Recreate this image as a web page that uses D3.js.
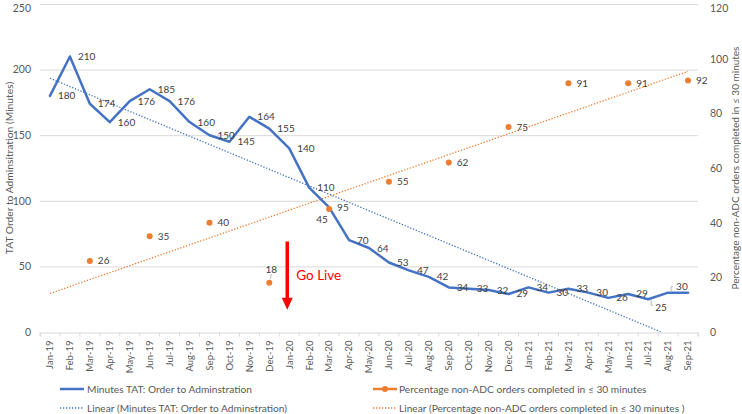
<!DOCTYPE html>
<html>
<head>
<meta charset="utf-8">
<script src="https://cdn.jsdelivr.net/npm/d3@7"></script>
<style>
  html, body { margin: 0; padding: 0; background: #ffffff; }
  svg { display: block; font-family: Lato, "Open Sans", sans-serif; }
</style>
</head>
<body>
<svg id="chart" width="742" height="414"></svg>
<script>
// ---------------- data ----------------
const months = ["Jan-19","Feb-19","Mar-19","Apr-19","May-19","Jun-19","Jul-19","Aug-19","Sep-19","Oct-19","Nov-19","Dec-19",
                "Jan-20","Feb-20","Mar-20","Apr-20","May-20","Jun-20","Jul-20","Aug-20","Sep-20","Oct-20","Nov-20","Dec-20",
                "Jan-21","Feb-21","Mar-21","Apr-21","May-21","Jun-21","Jul-21","Aug-21","Sep-21"];
const minutesTAT = [180,210,174,160,176,185,176,160,150,145,164,155,
                    140,110,95,70,64,53,47,42,34,33,32,29,
                    34,30,33,30,26,29,25,30,30];
const pctWithin30 = [null,null,26,null,null,35,null,null,40,null,null,18,
                     null,null,45,null,null,55,null,null,62,null,null,75,
                     null,null,91,null,null,91,null,null,92];
const leftTicks = [0,50,100,150,200,250];
const rightTicks = [0,20,40,60,80,100,120];
const seriesNames = ["Minutes TAT: Order to Adminstration",
                     "Percentage non-ADC orders completed in \u2264 30 minutes",
                     "Linear (Minutes TAT: Order to Adminstration)",
                     "Linear (Percentage non-ADC orders completed in \u2264 30 minutes )"];
const leftTitle = "TAT Order to Adminsitration (Minutes)";
const rightTitle = "Percentage non-ADC orders completed in \u2264 30 minutes";
const goLive = { month: "Jan-20", from: 69, to: 17, text: "Go Live", textAt: 43 };

// ---------------- layout / styles ----------------
const BLUE = "#4472C4", ORANGE = "#ED7D31", GRID = "#d9d9d9", TXT = "#595959", LBL = "#404040";
const plot = { left: 40, right: 698, top: 4, bottom: 332 };

const svg = d3.select("#chart");
const x = d3.scaleBand().domain(months).range([plot.left, plot.right]).padding(0);
const cx = m => x(m) + x.bandwidth() / 2;
const yL = d3.scaleLinear().domain([0, 250]).range([plot.bottom, plot.top]);
const yR = d3.scaleLinear().domain([0, 120]).range([plot.bottom, plot.top]);

// clip
svg.append("defs").append("clipPath").attr("id", "plotclip")
  .append("rect").attr("x", plot.left).attr("y", plot.top)
  .attr("width", plot.right - plot.left).attr("height", plot.bottom - plot.top);

// gridlines
svg.append("g").selectAll("line").data(leftTicks.filter(d => d > 0)).join("line")
  .attr("x1", plot.left).attr("x2", plot.right)
  .attr("y1", d => yL(d) + 0.5).attr("y2", d => yL(d) + 0.5)
  .attr("stroke", GRID).attr("stroke-width", 1);

// x axis
const xAxis = d3.axisBottom(x).tickSize(4).tickFormat(d => d);
const gx = svg.append("g").attr("transform", `translate(0,${plot.bottom + 0.5})`).call(xAxis);
gx.select(".domain").attr("stroke", GRID);
gx.selectAll(".tick line").remove();
gx.append("g").selectAll("line").data(d3.range(months.length + 1)).join("line")
  .attr("x1", i => plot.left + i * x.bandwidth()).attr("x2", i => plot.left + i * x.bandwidth())
  .attr("y1", 0).attr("y2", 4).attr("stroke", GRID);
gx.selectAll(".tick text")
  .attr("transform", "rotate(-90)")
  .attr("x", -8).attr("y", 0).attr("dy", "0.35em")
  .attr("text-anchor", "end")
  .attr("fill", TXT).attr("font-size", 9.5).attr("font-family", "Lato, sans-serif");

// left axis
const gl = svg.append("g").attr("transform", `translate(${plot.left},0)`)
  .call(d3.axisLeft(yL).tickValues(leftTicks).tickSize(0).tickPadding(9));
gl.select(".domain").remove();
gl.selectAll("text").attr("fill", TXT).attr("font-size", 10.5).attr("font-family", "Lato, sans-serif")
  .attr("dy", d => d === 250 ? "0.72em" : "0.32em");

// right axis
const gr = svg.append("g").attr("transform", `translate(${plot.right},0)`)
  .call(d3.axisRight(yR).tickValues(rightTicks).tickSize(0).tickPadding(12));
gr.select(".domain").remove();
gr.selectAll("text").attr("fill", TXT).attr("font-size", 10.5).attr("font-family", "Lato, sans-serif")
  .attr("dy", d => d === 120 ? "0.72em" : "0.32em");

// axis titles
const midY = (plot.top + plot.bottom) / 2;
svg.append("text").attr("transform", `translate(9,${midY}) rotate(-90)`)
  .attr("text-anchor", "middle").attr("dy", "0.35em")
  .attr("fill", TXT).attr("font-size", 10.3).text(leftTitle);
svg.append("text").attr("transform", `translate(735,${midY}) rotate(-90)`)
  .attr("text-anchor", "middle").attr("dy", "0.35em")
  .attr("fill", TXT).attr("font-size", 10).text(rightTitle);

// trendlines (least squares on category index)
function linreg(vals) {
  const pts = vals.map((v, i) => [i + 1, v]).filter(p => p[1] != null);
  const mx = d3.mean(pts, p => p[0]), my = d3.mean(pts, p => p[1]);
  const sxy = d3.sum(pts, p => (p[0] - mx) * (p[1] - my));
  const sxx = d3.sum(pts, p => (p[0] - mx) ** 2);
  const b = sxy / sxx, a = my - b * mx;
  return i => a + b * (i + 1);
}
const trendA = linreg(minutesTAT), trendB = linreg(pctWithin30);
const last = months.length - 1;
const gTrend = svg.append("g").attr("clip-path", "url(#plotclip)");
gTrend.append("line")
  .attr("x1", cx(months[0])).attr("y1", yL(trendA(0)))
  .attr("x2", cx(months[last])).attr("y2", yL(trendA(last)))
  .attr("stroke", BLUE).attr("stroke-width", 1.3).attr("stroke-dasharray", "1.3 1.7");
gTrend.append("line")
  .attr("x1", cx(months[0])).attr("y1", yR(trendB(0)))
  .attr("x2", cx(months[last])).attr("y2", yR(trendB(last)))
  .attr("stroke", ORANGE).attr("stroke-width", 1.3).attr("stroke-dasharray", "1.3 1.7");

// blue line
const line = d3.line().x((d, i) => cx(months[i])).y(d => yL(d));
svg.append("path").datum(minutesTAT).attr("d", line)
  .attr("fill", "none").attr("stroke", BLUE).attr("stroke-width", 2.5)
  .attr("stroke-linejoin", "round").attr("stroke-linecap", "round");

// orange markers
const pctPts = pctWithin30.map((v, i) => ({ m: months[i], v })).filter(d => d.v != null);
svg.append("g").selectAll("circle").data(pctPts).join("circle")
  .attr("cx", d => cx(d.m)).attr("cy", d => yR(d.v)).attr("r", 3).attr("fill", ORANGE);

// data labels
const blueNudge = {
  "Jul-21": { dx: 7, dy: 8, leader: [[3, 0], [3, 6], [5, 6]] },
  "Aug-21": { dx: 8, dy: -6, leader: [[3, 0], [3, -6], [5, -6]] },
  "Sep-21": { hide: true }
};
const orangeNudge = {
  "Mar-20": { dx: -7, dy: 10, anchor: "middle" },
  "Dec-19": { dx: 2, dy: -13, anchor: "middle", leader: [[1, -4], [2, -9]] }
};
function drawLabels(pts, yScale, nudges) {
  const g = svg.append("g");
  pts.forEach(d => {
    const n = nudges[d.m] || {};
    if (n.hide) return;
    const px = cx(d.m), py = yScale(d.v);
    if (n.leader) {
      g.append("path")
        .attr("d", d3.line()(n.leader.map(p => [px + p[0], py + p[1]])))
        .attr("fill", "none").attr("stroke", "#a6a6a6").attr("stroke-width", 0.8);
    }
    g.append("text")
      .attr("x", px + (n.dx != null ? n.dx : 8))
      .attr("y", py + (n.dy || 0))
      .attr("dy", "0.35em")
      .attr("text-anchor", n.anchor || "start")
      .attr("fill", LBL).attr("font-size", 10)
      .text(d.v);
  });
}
drawLabels(minutesTAT.map((v, i) => ({ m: months[i], v })), yL, blueNudge);
drawLabels(pctPts, yR, orangeNudge);

// Go Live annotation
const gx0 = cx(goLive.month) - 2;
const gGo = svg.append("g");
gGo.append("line").attr("x1", gx0).attr("x2", gx0)
  .attr("y1", yL(goLive.from)).attr("y2", yL(goLive.to) - 10)
  .attr("stroke", "#ff0000").attr("stroke-width", 3.5);
gGo.append("path")
  .attr("d", `M${gx0 - 5.5},${yL(goLive.to) - 12} L${gx0 + 5.5},${yL(goLive.to) - 12} L${gx0},${yL(goLive.to)} Z`)
  .attr("fill", "#ff0000");
gGo.append("text").attr("x", gx0 + 9).attr("y", yL(goLive.textAt)).attr("dy", "0.35em")
  .attr("fill", "#ff0000").attr("font-size", 13.5).text(goLive.text);

// legend
const leg = svg.append("g").attr("font-size", 10.2).attr("fill", TXT);
const rows = [389, 408];
const cols = [{ s: 60, e: 84, t: 87 }, { s: 373, e: 397, t: 399 }];
const legendItems = [
  { name: seriesNames[0], color: BLUE, dash: null, w: 2.5, marker: false, r: 0, c: 0 },
  { name: seriesNames[1], color: ORANGE, dash: null, w: 2.5, marker: true, r: 0, c: 1 },
  { name: seriesNames[2], color: BLUE, dash: "1.3 1.7", w: 1.3, marker: false, r: 1, c: 0 },
  { name: seriesNames[3], color: ORANGE, dash: "1.3 1.7", w: 1.3, marker: false, r: 1, c: 1 }
];
legendItems.forEach(it => {
  const y = rows[it.r], c = cols[it.c];
  leg.append("line").attr("x1", c.s).attr("x2", c.e).attr("y1", y).attr("y2", y)
    .attr("stroke", it.color).attr("stroke-width", it.w)
    .attr("stroke-dasharray", it.dash);
  if (it.marker) leg.append("circle").attr("cx", (c.s + c.e) / 2).attr("cy", y).attr("r", 3).attr("fill", it.color);
  leg.append("text").attr("x", c.t).attr("y", y).attr("dy", "0.35em").text(it.name);
});
</script>
</body>
</html>
